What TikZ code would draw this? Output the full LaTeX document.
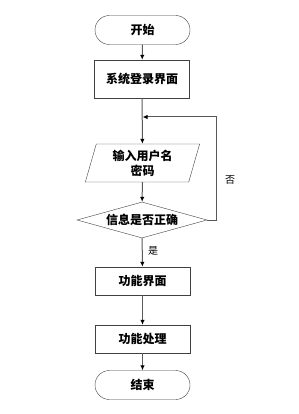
\documentclass[tikz,border=0pt]{standalone}
\usepackage{fontspec}
\usepackage{tikz}
\usetikzlibrary{positioning, calc, shapes.geometric, arrows.meta}
\newfontfamily\cjk{Noto Sans CJK SC}
\newcommand{\steptext}[1]{{\cjk\bfseries #1}}

\begin{document}
\begin{tikzpicture}[x=1pt, y=-1pt,
			terminal/.style={
					rectangle, draw=black!75, fill=white, rounded corners=14.5pt,
					minimum width=95pt, minimum height=29pt, inner sep=0pt,
					font=\fontsize{12}{14}\selectfont
				},
			process/.style={
					rectangle, draw=black!75, fill=white,
					minimum width=95pt, inner sep=0pt, font=\fontsize{12}{14}\selectfont
				},
			io/.style={
					trapezium, trapezium left angle=75, trapezium right angle=105,
					draw=black!75, fill=white, minimum width=115pt, minimum height=38pt,
					trapezium stretches=true, inner sep=0pt, align=center,
					font=\fontsize{12}{15}\selectfont
				},
			decision/.style={
					diamond, draw=black!75, fill=white, aspect=3.6,
					minimum width=130pt, minimum height=36pt, inner sep=0pt,
					font=\fontsize{12}{14}\selectfont
				},
			flow/.style={draw=black!65, line width=1pt, -{Latex[length=5pt,width=4.5pt,black]}},
			note/.style={font=\cjk\fontsize{10}{12}\selectfont}
		]

		\useasboundingbox (0,0) rectangle (298,414);

		% Main column
		\node[terminal] (start) at (142.5,30) {\steptext{开始}};
		\node[process, minimum height=38pt] (login) at (142,79) {\steptext{系统登录界面}};
		\node[io] (input) at (142.5,163) {\steptext{输入用户名}\\\steptext{密码}};
		\node[decision] (check) at (142,220) {\steptext{信息是否正确}};
		\node[process, minimum height=28pt] (menu) at (142.5,281) {\steptext{功能界面}};
		\node[process, minimum height=28pt] (work) at (142.5,339) {\steptext{功能处理}};
		\node[terminal] (finish) at (142.5,385) {\steptext{结束}};

		% Point where the retry loop joins
		\coordinate (merge) at (142.5,117);

		\draw[flow] (start) -- (login);
		\draw[flow] (login) -- (input);
		\draw[flow] (input) -- (check);
		\draw[flow] (check) -- node[note, right=2pt, pos=0.45] (yes) {是} (menu);
		\draw[flow] (menu) -- (work);
		\draw[flow] (work) -- (finish);

		% Retry loop back to the input step
		\draw[flow] (check.east) -- ++(9,0) coordinate (loopcorner) |- (merge);
		\node[note] (no) at (230,180) {否};

	\end{tikzpicture}
\end{document}
